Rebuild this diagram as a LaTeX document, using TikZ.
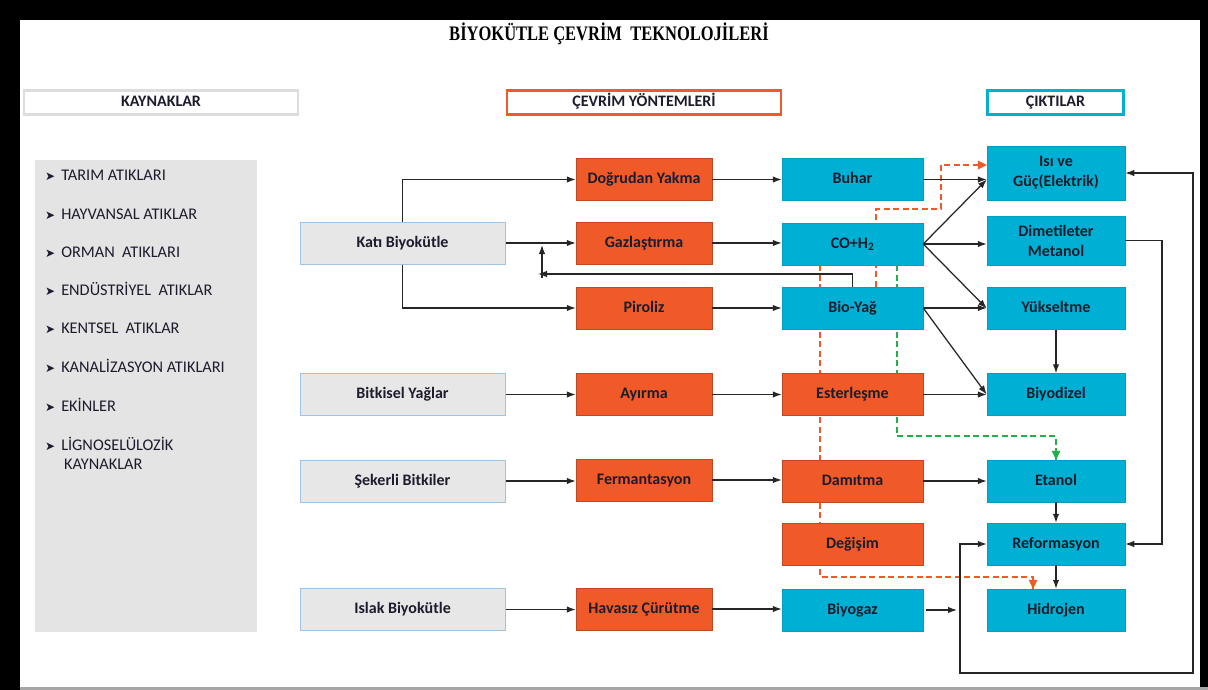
\documentclass[tikz,border=0pt]{standalone}
\usepackage{fontspec}
\setmainfont{Carlito}
\newfontfamily\titlefont{Liberation Serif}
\newfontfamily\symfont{DejaVu Sans}
\usetikzlibrary{arrows.meta,backgrounds}
\pgfdeclarelayer{framelayer}
\pgfsetlayers{framelayer,background,main}
\definecolor{orng}{HTML}{F05A28}
\definecolor{cyn}{HTML}{00B0D4}
\definecolor{lgray}{HTML}{E7E7E7}
\definecolor{pgray}{HTML}{E4E4E4}
\definecolor{hgray}{HTML}{DDDDDD}
\definecolor{lblue}{HTML}{9DC3E6}
\definecolor{txt}{HTML}{1C1C2C}
\definecolor{ln}{HTML}{262626}
\definecolor{grn}{HTML}{22B04B}
\newcommand{\bul}{{\symfont\fontsize{12}{12}\selectfont ➤}\hspace{6pt}}
\begin{document}
\begin{tikzpicture}[x=1pt,y=-1pt,
  box/.style={rectangle, minimum height=42pt, inner sep=0pt, align=center,
    font=\fontsize{16}{20}\selectfont\bfseries, text=txt},
  one/.style={text height=11pt, text depth=3pt},
  src/.style={box, one, fill=lgray, draw=lblue, line width=1pt, minimum width=205pt},
  og/.style={fill=orng, draw=orng!80!black, line width=0.5pt},
  cy/.style={fill=cyn, draw=cyn!90!black, line width=0.5pt},
  prc/.style={box, og, minimum width=136pt},
  mid/.style={box, minimum width=141pt},
  outbox/.style={box, cy, minimum width=138pt},
  hdr/.style={rectangle, minimum height=24pt, inner sep=0pt, line width=2.5pt,
    font=\fontsize{16}{18}\selectfont\bfseries, text=txt, text height=11pt, text depth=3pt},
  item/.style={anchor=base west, inner sep=0pt, font=\fontsize{16.3}{19}\selectfont, text=txt},
  arr/.style={draw=ln, line width=1.25pt, -{Latex[length=9pt,width=6.5pt]}},
  arrboth/.style={draw=ln, line width=1.25pt, {Latex[length=9pt,width=6.5pt]}-{Latex[length=9pt,width=6.5pt]}},
  odash/.style={draw=orng, line width=2.3pt, dash pattern=on 6pt off 3.5pt},
  gdash/.style={draw=grn, line width=2.3pt, dash pattern=on 6pt off 3.5pt}
]
\useasboundingbox (0,0) rectangle (1208,690);
% frame
\begin{pgfonlayer}{framelayer}
\fill[black] (0,0) rectangle (1208,690);
\fill[white] (20,20) rectangle (1200,687);
\fill[black!35] (20,687) rectangle (1208,690);
\end{pgfonlayer}

% title
\node[font=\titlefont\bfseries\fontsize{16.5}{18}\selectfont, text=black, inner sep=0pt] (title) at (609,34)
  {\scalebox{1}[1.25]{BİYOKÜTLE ÇEVRİM\ \ TEKNOLOJİLERİ}};

% headers
\node[hdr, draw=hgray, minimum width=274pt] (hk) at (161,102.5) {KAYNAKLAR};
\node[hdr, draw=orng, minimum width=274pt] (hc) at (644,102.5) {ÇEVRİM YÖNTEMLERİ};
\node[hdr, draw=cyn, minimum width=136pt] (ho) at (1055.5,102.5) {ÇIKTILAR};

% left panel
\node[fill=pgray, minimum width=222pt, minimum height=472pt, inner sep=0pt] (panel) at (146,396) {};
\node[item] (l1) at (45,180) {\bul TARIM ATIKLARI};
\node[item] (l2) at (45,219) {\bul HAYVANSAL ATIKLAR};
\node[item] (l3) at (45,257) {\bul ORMAN\ \ ATIKLARI};
\node[item] (l4) at (45,295) {\bul ENDÜSTRİYEL\ \ ATIKLAR};
\node[item] (l5) at (45,333) {\bul KENTSEL\ \ ATIKLAR};
\node[item] (l6) at (45,372) {\bul KANALİZASYON ATIKLARI};
\node[item] (l7) at (45,411) {\bul EKİNLER};
\node[item] (l8) at (45,450) {\bul LİGNOSELÜLOZİK};
\node[item] (l9) at (64,469) {KAYNAKLAR};

% sources
\node[src] (kb) at (402.5,243) {Katı Biyokütle};
\node[src] (bt) at (402.5,394.5) {Bitkisel Yağlar};
\node[src] (sk) at (402.5,481) {Şekerli Bitkiler};
\node[src] (ib) at (402.5,609.5) {Islak Biyokütle};

% processes
\node[prc, one] (dy) at (644,179.5) {Doğrudan Yakma};
\node[prc, one] (gz) at (644,243) {Gazlaştırma};
\node[prc, one] (pi) at (644,308) {Piroliz};
\node[prc, one] (ay) at (644,394.5) {Ayırma};
\node[prc, one] (fe) at (644,480) {Fermantasyon};
\node[prc, one] (hv) at (644,609) {Havasız Çürütme};

% middle column
\node[mid, cy, one] (bu) at (852.5,179.5) {Buhar};
\node[mid, cy, one] (co) at (852.5,244) {CO+H\textsubscript{2}};
\node[mid, cy, one] (by) at (852.5,308) {Bio-Yağ};
\node[mid, og, one] (es) at (852.5,394.5) {Esterleşme};
\node[mid, og, one] (dt) at (852.5,481) {Damıtma};
\node[mid, og, one] (dg) at (852.5,544) {Değişim};
\node[mid, cy, one] (bg) at (852.5,610) {Biyogaz};

% outputs
\node[outbox, minimum height=54pt] (isi) at (1056,173) {Isı ve\\Güç(Elektrik)};
\node[outbox, minimum height=49pt] (dm) at (1056,240.5) {Dimetileter\\Metanol};
\node[outbox, one] (yk) at (1056,308.5) {Yükseltme};
\node[outbox, one] (bd) at (1056,394.5) {Biyodizel};
\node[outbox, one] (et) at (1056,481) {Etanol};
\node[outbox, one] (rf) at (1056,544) {Reformasyon};
\node[outbox, one] (hd) at (1056,610) {Hidrojen};

% coordinates
\coordinate (fbl) at (538,274);
\coordinate (fvb) at (542,278);
\coordinate (fvt) at (542,245);
\coordinate (oa1) at (876,209);
\coordinate (oa2) at (941,209);
\coordinate (oa3) at (941,165);
\coordinate (ob1) at (820,577);
\coordinate (ob2) at (1033,577);
\coordinate (g1) at (897,436);
\coordinate (L1) at (960,673);
\coordinate (L2) at (1193,673);
\coordinate (bgt) at (957,610);
\coordinate (bgs) at (926,610);
\coordinate (d1) at (1162,240.5);

% dashed connectors (behind boxes)
\begin{pgfonlayer}{background}
\draw[odash] (oa1 |- by.north) -- (oa1) -- (oa2) -- (oa3) -- ([xshift=-8pt]oa3 -| isi.west);
\draw[odash] (ob1 |- co.south) -- (ob1) -- (ob2) -- ([yshift=-8pt]ob2 |- hd.north);
\draw[gdash] (g1 |- co.south) -- (g1) -- (g1 -| et.north) -- ([yshift=-8pt]et.north);
\end{pgfonlayer}
\fill[orng] (oa3 -| isi.west) -- ++(-9,-4.5) -- ++(0,9) -- cycle;
\fill[orng] (ob2 |- hd.north) -- ++(-4.5,-9) -- ++(9,0) -- cycle;
\fill[grn] (et.north) -- ++(-4.5,-9) -- ++(9,0) -- cycle;

% sources -> processes
\draw[arr] (kb.north) |- (dy.west);
\draw[arr] (kb.east) -- (gz.west);
\draw[arr] (kb.south) |- (pi.west);
\draw[arr] (bt.east) -- (bt.east -| ay.west);
\draw[arr] (sk.east) -- (sk.east -| fe.west);
\draw[arr] (ib.east) -- (ib.east -| hv.west);
% feedback
\draw[arr] (by.north) |- (fbl);
\draw[arr] (fvb) -- (fvt);

% processes -> middle
\draw[arr] (dy.east) -- (dy.east -| bu.west);
\draw[arr] (gz.east) -- (gz.east -| co.west);
\draw[arr] (pi.east) -- (pi.east -| by.west);
\draw[arr] (ay.east) -- (ay.east -| es.west);
\draw[arr] (fe.east) -- (fe.east -| dt.west);
\draw[arr] (hv.east) -- (hv.east -| bg.west);

% middle -> outputs
\draw[arr] (bu.east) -- (bu.east -| isi.west);
\draw[arr] (co.east) -- (bu.east -| isi.west);
\draw[arr] (co.east) -- (co.east -| dm.west);
\draw[arr] (co.east) -- (yk.west);
\draw[arr] (by.east) -- (by.east -| yk.west);
\draw[arr] (by.east) -- (bd.west);
\draw[arr] (es.east) -- (bd.west);
\draw[arr] (dt.east) -- (dt.east -| et.west);
\draw[arr] (yk.south) -- (bd.north);
\draw[arr] (et.south) -- (rf.north);
\draw[arr] (rf.south) -- (hd.north);
\draw[arr] (dm.east) -- (d1) |- (rf.east);
\draw[arr] (bgs) -- (bgt);
\draw[arrboth] (rf.west) -| (L1) -- (L2) |- (isi.east);
\end{tikzpicture}
\end{document}
